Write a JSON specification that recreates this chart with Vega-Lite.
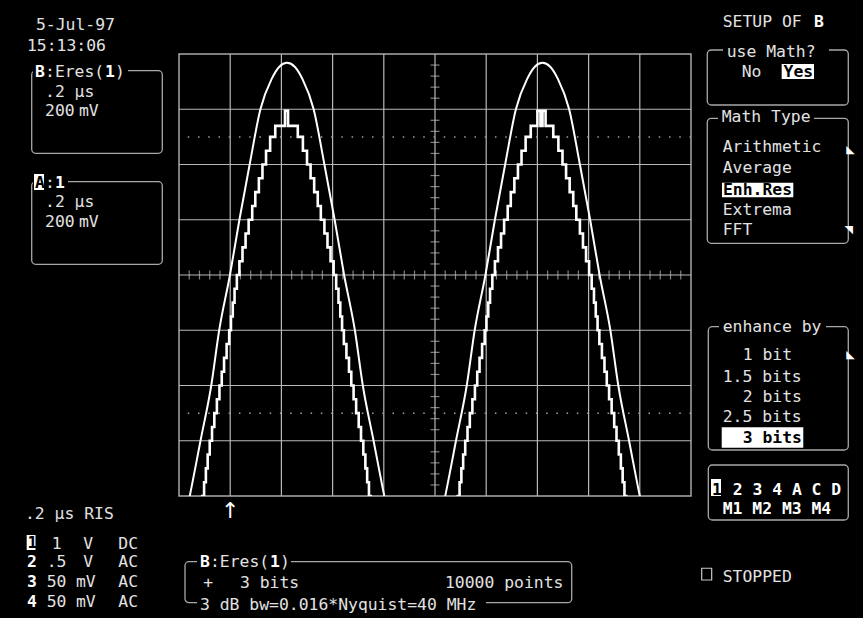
{
  "$schema": "https://vega.github.io/schema/vega-lite/v6.json",
  "width": 512,
  "height": 442,
  "autosize": {"type": "none"},
  "padding": {"left": 179, "top": 54, "right": 172, "bottom": 122},
  "background": "#000000",
  "config": {
    "view": {"stroke": "#a8a8a8", "strokeWidth": 1.5},
    "text": {"font": "DejaVu Sans Mono", "fontSize": 16.4}
  },
  "datasets": {
    "gridX": [{"x":-4},{"x":-3},{"x":-2},{"x":-1},{"x":0},{"x":1},{"x":2},{"x":3},{"x":4}],
    "gridY": [{"y":-3},{"y":-2},{"y":-1},{"y":0},{"y":1},{"y":2},{"y":3}],
    "minorX": [{"x":-4.8},{"x":-4.6},{"x":-4.4},{"x":-4.2},{"x":-3.8},{"x":-3.6},{"x":-3.4},{"x":-3.2},{"x":-2.8},{"x":-2.6},{"x":-2.4},{"x":-2.2},{"x":-1.8},{"x":-1.6},{"x":-1.4},{"x":-1.2},{"x":-0.8},{"x":-0.6},{"x":-0.4},{"x":-0.2},{"x":0.2},{"x":0.4},{"x":0.6},{"x":0.8},{"x":1.2},{"x":1.4},{"x":1.6},{"x":1.8},{"x":2.2},{"x":2.4},{"x":2.6},{"x":2.8},{"x":3.2},{"x":3.4},{"x":3.6},{"x":3.8},{"x":4.2},{"x":4.4},{"x":4.6},{"x":4.8}],
    "minorY": [{"y":-3.8},{"y":-3.6},{"y":-3.4},{"y":-3.2},{"y":-2.8},{"y":-2.6},{"y":-2.4},{"y":-2.2},{"y":-1.8},{"y":-1.6},{"y":-1.4},{"y":-1.2},{"y":-0.8},{"y":-0.6},{"y":-0.4},{"y":-0.2},{"y":0.2},{"y":0.4},{"y":0.6},{"y":0.8},{"y":1.2},{"y":1.4},{"y":1.6},{"y":1.8},{"y":2.2},{"y":2.4},{"y":2.6},{"y":2.8},{"y":3.2},{"y":3.4},{"y":3.6},{"y":3.8}],
    "dotted": [{"y": 2.5}, {"y": -2.5}],
    "outer": [{"x":-5.0,"y":-4.9},{"x":-4.79,"y":-4.0},{"x":-4.58,"y":-3.0},{"x":-4.37,"y":-2.0},{"x":-4.215,"y":-1.0},{"x":-4.005,"y":0},{"x":-3.82,"y":1.0},{"x":-3.62,"y":2.0},{"x":-3.41,"y":3.0},{"x":-3.19,"y":3.55},{"x":-3.04,"y":3.77},{"x":-2.89,"y":3.84},{"x":-2.74,"y":3.77},{"x":-2.59,"y":3.55},{"x":-2.37,"y":3.0},{"x":-2.16,"y":2.0},{"x":-1.96,"y":1.0},{"x":-1.775,"y":0},{"x":-1.565,"y":-1.0},{"x":-1.41,"y":-2.0},{"x":-1.2,"y":-3.0},{"x":-0.99,"y":-4.0},{"x":-0.79,"y":-4.85},{"x":-0.39,"y":-5.4},{"x":0.0,"y":-4.85},{"x":0.2,"y":-4.0},{"x":0.41,"y":-3.0},{"x":0.62,"y":-2.0},{"x":0.775,"y":-1.0},{"x":0.985,"y":0},{"x":1.17,"y":1.0},{"x":1.37,"y":2.0},{"x":1.58,"y":3.0},{"x":1.8,"y":3.55},{"x":1.95,"y":3.77},{"x":2.1,"y":3.84},{"x":2.25,"y":3.77},{"x":2.4,"y":3.55},{"x":2.62,"y":3.0},{"x":2.83,"y":2.0},{"x":3.03,"y":1.0},{"x":3.215,"y":0},{"x":3.425,"y":-1.0},{"x":3.58,"y":-2.0},{"x":3.79,"y":-3.0},{"x":4.0,"y":-4.0},{"x":4.2,"y":-4.85},{"x":4.6,"y":-5.4},{"x":5.0,"y":-4.85}],
    "inner": [{"x":-5.0,"y":-5.5},
      {"x":-4.63,"y":-4.5},{"x":-4.58,"y":-4.25},{"x":-4.545,"y":-4.0},{"x":-4.51,"y":-3.75},{"x":-4.475,"y":-3.5},{"x":-4.44,"y":-3.25},{"x":-4.40,"y":-3.0},{"x":-4.355,"y":-2.75},{"x":-4.31,"y":-2.5},{"x":-4.26,"y":-2.25},{"x":-4.21,"y":-2.0},{"x":-4.165,"y":-1.75},{"x":-4.12,"y":-1.5},{"x":-4.07,"y":-1.25},{"x":-4.02,"y":-1.0},{"x":-3.985,"y":-0.75},{"x":-3.95,"y":-0.5},{"x":-3.915,"y":-0.25},{"x":-3.87,"y":0},{"x":-3.82,"y":0.25},{"x":-3.76,"y":0.5},{"x":-3.70,"y":0.75},{"x":-3.64,"y":1.0},{"x":-3.57,"y":1.25},{"x":-3.51,"y":1.5},{"x":-3.44,"y":1.75},{"x":-3.37,"y":2.0},{"x":-3.30,"y":2.25},{"x":-3.22,"y":2.5},{"x":-3.12,"y":2.7},{"x":-2.93,"y":2.97},
      {"x":-2.87,"y":2.7},{"x":-2.68,"y":2.5},{"x":-2.58,"y":2.25},{"x":-2.50,"y":2.0},{"x":-2.43,"y":1.75},{"x":-2.36,"y":1.5},{"x":-2.29,"y":1.25},{"x":-2.23,"y":1.0},{"x":-2.16,"y":0.75},{"x":-2.10,"y":0.5},{"x":-2.04,"y":0.25},{"x":-1.98,"y":0},{"x":-1.93,"y":-0.25},{"x":-1.885,"y":-0.5},{"x":-1.85,"y":-0.75},{"x":-1.815,"y":-1.0},{"x":-1.78,"y":-1.25},{"x":-1.73,"y":-1.5},{"x":-1.68,"y":-1.75},{"x":-1.635,"y":-2.0},{"x":-1.59,"y":-2.25},{"x":-1.54,"y":-2.5},{"x":-1.49,"y":-2.75},{"x":-1.445,"y":-3.0},{"x":-1.40,"y":-3.25},{"x":-1.36,"y":-3.5},{"x":-1.325,"y":-3.75},{"x":-1.29,"y":-4.0},{"x":-1.255,"y":-4.25},{"x":-1.22,"y":-4.5},
      {"x":-0.4,"y":-5.5},
      {"x":0.36,"y":-4.5},{"x":0.41,"y":-4.25},{"x":0.445,"y":-4.0},{"x":0.48,"y":-3.75},{"x":0.515,"y":-3.5},{"x":0.55,"y":-3.25},{"x":0.59,"y":-3.0},{"x":0.635,"y":-2.75},{"x":0.68,"y":-2.5},{"x":0.73,"y":-2.25},{"x":0.78,"y":-2.0},{"x":0.825,"y":-1.75},{"x":0.87,"y":-1.5},{"x":0.92,"y":-1.25},{"x":0.97,"y":-1.0},{"x":1.005,"y":-0.75},{"x":1.04,"y":-0.5},{"x":1.075,"y":-0.25},{"x":1.12,"y":0},{"x":1.17,"y":0.25},{"x":1.23,"y":0.5},{"x":1.29,"y":0.75},{"x":1.35,"y":1.0},{"x":1.42,"y":1.25},{"x":1.48,"y":1.5},{"x":1.55,"y":1.75},{"x":1.62,"y":2.0},{"x":1.69,"y":2.25},{"x":1.77,"y":2.5},{"x":1.87,"y":2.7},{"x":2.0,"y":2.97},{"x":2.06,"y":2.7},{"x":2.1,"y":2.97},
      {"x":2.16,"y":2.7},{"x":2.31,"y":2.5},{"x":2.41,"y":2.25},{"x":2.49,"y":2.0},{"x":2.56,"y":1.75},{"x":2.63,"y":1.5},{"x":2.70,"y":1.25},{"x":2.76,"y":1.0},{"x":2.83,"y":0.75},{"x":2.89,"y":0.5},{"x":2.95,"y":0.25},{"x":3.01,"y":0},{"x":3.06,"y":-0.25},{"x":3.105,"y":-0.5},{"x":3.14,"y":-0.75},{"x":3.175,"y":-1.0},{"x":3.21,"y":-1.25},{"x":3.26,"y":-1.5},{"x":3.31,"y":-1.75},{"x":3.355,"y":-2.0},{"x":3.40,"y":-2.25},{"x":3.45,"y":-2.5},{"x":3.50,"y":-2.75},{"x":3.545,"y":-3.0},{"x":3.59,"y":-3.25},{"x":3.63,"y":-3.5},{"x":3.665,"y":-3.75},{"x":3.70,"y":-4.0},{"x":3.735,"y":-4.25},{"x":3.77,"y":-4.5},
      {"x":5.0,"y":-5.5}],
    "boxes": [{"x":-7.877,"x2":-5.326,"y":3.698,"y2":2.203},{"x":-7.877,"x2":-5.326,"y":1.689,"y2":0.194},{"x":5.318,"x2":8.072,"y":4.072,"y2":3.077},{"x":5.318,"x2":8.072,"y":2.836,"y2":0.574},{"x":5.338,"x2":8.072,"y":-0.936,"y2":-3.167},{"x":5.338,"x2":8.072,"y":-3.439,"y2":-4.434},{"x":-4.883,"x2":2.670,"y":-5.189,"y2":-5.931}],
    "square": [{"x":5.209,"x2":5.404,"y":-5.308,"y2":-5.520}],
    "masks": [{"x":-7.852,"x2":-5.996,"y":3.819,"y2":3.566},{"x":-7.852,"x2":-7.168,"y":1.792,"y2":1.575},{"x":5.625,"x2":7.695,"y":4.181,"y2":3.946},{"x":5.527,"x2":7.402,"y":2.950,"y2":2.715},{"x":5.547,"x2":7.637,"y":-0.814,"y2":-1.050},{"x":-4.648,"x2":-2.813,"y":-5.068,"y2":-5.303},{"x":-4.648,"x2":0.996,"y":-5.828,"y2":-6.045}],
    "highlights": [{"x":6.771,"x2":7.402,"y":3.819,"y2":3.548},{"x":5.605,"x2":6.998,"y":1.671,"y2":1.406},{"x":5.600,"x2":7.193,"y":-2.757,"y2":-3.126},{"x":5.391,"x2":5.586,"y":-3.692,"y2":-4.0},{"x":-7.975,"x2":-7.803,"y":-4.706,"y2":-4.977},{"x":-7.832,"x2":-7.637,"y":1.828,"y2":1.538}],
    "textNormal": [
      {"t":"5-Jul-97","x":-7.793,"y":4.434},
      {"t":"15:13:06","x":-7.969,"y":4.054},
      {"t":":Eres(","x":-7.617,"y":3.589},
      {"t":")","x":-6.25,"y":3.589},
      {"t":".2 µs","x":-7.617,"y":3.215},
      {"t":"200","x":-7.617,"y":2.886},
      {"t":"mV","x":-6.953,"y":2.886},
      {"t":":","x":-7.617,"y":1.569},
      {"t":".2 µs","x":-7.617,"y":1.236},
      {"t":"200","x":-7.617,"y":0.874},
      {"t":"mV","x":-6.953,"y":0.874},
      {"t":"SETUP OF","x":5.619,"y":4.494},
      {"t":"use Math?","x":5.697,"y":3.951},
      {"t":"No","x":5.990,"y":3.589},
      {"t":"Math Type","x":5.600,"y":2.775},
      {"t":"Arithmetic","x":5.619,"y":2.232},
      {"t":"Average","x":5.619,"y":1.841},
      {"t":"Extrema","x":5.619,"y":1.086},
      {"t":"FFT","x":5.619,"y":0.724},
      {"t":"enhance by","x":5.619,"y":-1.032},
      {"t":"1 bit","x":6.010,"y":-1.538},
      {"t":"1.5 bits","x":5.619,"y":-1.931},
      {"t":"2 bits","x":6.010,"y":-2.293},
      {"t":"2.5 bits","x":5.619,"y":-2.655},
      {"t":"STOPPED","x":5.619,"y":-5.551},
      {"t":".2 µs RIS","x":-8.008,"y":-4.422},
      {"t":"1","x":-7.486,"y":-4.965},
      {"t":"V","x":-6.869,"y":-4.965},
      {"t":"DC","x":-6.186,"y":-4.965},
      {"t":".5","x":-7.584,"y":-5.290},
      {"t":"V","x":-6.869,"y":-5.290},
      {"t":"AC","x":-6.186,"y":-5.290},
      {"t":"50","x":-7.584,"y":-5.642},
      {"t":"mV","x":-7.012,"y":-5.642},
      {"t":"AC","x":-6.186,"y":-5.642},
      {"t":"50","x":-7.584,"y":-6.004},
      {"t":"mV","x":-7.012,"y":-6.004},
      {"t":"AC","x":-6.186,"y":-6.004},
      {"t":":Eres(","x":-4.395,"y":-5.280},
      {"t":")","x":-3.027,"y":-5.280},
      {"t":"+","x":-4.525,"y":-5.671},
      {"t":"3 bits","x":-3.809,"y":-5.671},
      {"t":"10000 points","x":0.195,"y":-5.671},
      {"t":"3 dB bw=0.016*Nyquist=40 MHz","x":-4.590,"y":-6.063}
    ],
    "textBold": [
      {"t":"B","x":-7.813,"y":3.589},
      {"t":"1","x":-6.445,"y":3.589},
      {"t":"1","x":-7.422,"y":1.569},
      {"t":"B","x":7.40,"y":4.494},
      {"t":"2 3 4 A C D","x":5.814,"y":-3.982},
      {"t":"M1 M2 M3 M4","x":5.619,"y":-4.326},
      {"t":"2","x":-7.969,"y":-5.290},
      {"t":"3","x":-7.969,"y":-5.642},
      {"t":"4","x":-7.969,"y":-6.004},
      {"t":"B","x":-4.590,"y":-5.280},
      {"t":"1","x":-3.223,"y":-5.280}
    ],
    "textInverse": [
      {"t":"Yes","x":6.807,"y":3.584},
      {"t":"Enh.Res","x":5.625,"y":1.448},
      {"t":"3 bits","x":6.010,"y":-3.041},
      {"t":"1","x":5.410,"y":-3.973},
      {"t":"1","x":-7.959,"y":-4.950},
      {"t":"A","x":-7.813,"y":1.569}
    ],
    "arrow": [{"t":"↑","x":-4.0,"y":-4.40}],
    "scrollMarks": [{"t":"◣","x":8.03,"y":2.208},{"t":"◥","x":8.0,"y":0.760},{"t":"◣","x":8.03,"y":-1.502}]
  },
  "layer": [
    {
      "data": {"name": "gridX"},
      "mark": {"type": "rule", "color": "#b8b8b8", "strokeWidth": 1.2},
      "encoding": {
        "x": {"field": "x", "type": "quantitative", "scale": {"domain": [-5, 5], "nice": false, "zero": false}, "axis": null}
      }
    },
    {
      "data": {"name": "gridY"},
      "mark": {"type": "rule", "color": "#b8b8b8", "strokeWidth": 1.2},
      "encoding": {
        "y": {"field": "y", "type": "quantitative", "scale": {"domain": [-4, 4], "nice": false, "zero": false}, "axis": null}
      }
    },
    {
      "data": {"name": "dotted"},
      "mark": {"type": "rule", "color": "#a0a0a0", "strokeWidth": 1.5, "strokeDash": [1.5, 8.74]},
      "encoding": {"y": {"field": "y", "type": "quantitative", "axis": null}}
    },
    {
      "data": {"name": "minorX"},
      "mark": {"type": "tick", "orient": "vertical", "color": "#b8b8b8", "size": 9, "thickness": 1.2},
      "encoding": {"x": {"field": "x", "type": "quantitative", "axis": null}, "y": {"datum": 0, "type": "quantitative", "axis": null}}
    },
    {
      "data": {"name": "minorY"},
      "mark": {"type": "tick", "orient": "horizontal", "color": "#b8b8b8", "size": 9, "thickness": 1.2},
      "encoding": {"y": {"field": "y", "type": "quantitative", "axis": null}, "x": {"datum": 0, "type": "quantitative", "axis": null}}
    },
    {
      "data": {"name": "outer"},
      "mark": {"type": "line", "color": "#ffffff", "strokeWidth": 2, "interpolate": "monotone", "clip": true},
      "encoding": {"x": {"field": "x", "type": "quantitative", "axis": null}, "y": {"field": "y", "type": "quantitative", "axis": null}}
    },
    {
      "data": {"name": "inner"},
      "mark": {"type": "line", "color": "#ffffff", "strokeWidth": 2.6, "interpolate": "step-after", "clip": true},
      "encoding": {"x": {"field": "x", "type": "quantitative", "axis": null, "sort": null}, "y": {"field": "y", "type": "quantitative", "axis": null}}
    },
    {
      "data": {"name": "boxes"},
      "mark": {"type": "rect", "fill": "#000000", "fillOpacity": 0, "stroke": "#a8a8a8", "strokeWidth": 1.3, "cornerRadius": 4},
      "encoding": {"x": {"field": "x", "type": "quantitative", "axis": null}, "x2": {"field": "x2"}, "y": {"field": "y", "type": "quantitative", "axis": null}, "y2": {"field": "y2"}}
    },
    {
      "data": {"name": "square"},
      "mark": {"type": "rect", "fill": "#000000", "fillOpacity": 0, "stroke": "#c8c8c8", "strokeWidth": 1.2},
      "encoding": {"x": {"field": "x", "type": "quantitative", "axis": null}, "x2": {"field": "x2"}, "y": {"field": "y", "type": "quantitative", "axis": null}, "y2": {"field": "y2"}}
    },
    {
      "data": {"name": "masks"},
      "mark": {"type": "rect", "fill": "#000000"},
      "encoding": {"x": {"field": "x", "type": "quantitative", "axis": null}, "x2": {"field": "x2"}, "y": {"field": "y", "type": "quantitative", "axis": null}, "y2": {"field": "y2"}}
    },
    {
      "data": {"name": "highlights"},
      "mark": {"type": "rect", "fill": "#ffffff"},
      "encoding": {"x": {"field": "x", "type": "quantitative", "axis": null}, "x2": {"field": "x2"}, "y": {"field": "y", "type": "quantitative", "axis": null}, "y2": {"field": "y2"}}
    },
    {
      "data": {"name": "textNormal"},
      "mark": {"type": "text", "align": "left", "baseline": "alphabetic", "color": "#e2e2e2"},
      "encoding": {"x": {"field": "x", "type": "quantitative", "axis": null}, "y": {"field": "y", "type": "quantitative", "axis": null}, "text": {"field": "t"}}
    },
    {
      "data": {"name": "textBold"},
      "mark": {"type": "text", "align": "left", "baseline": "alphabetic", "color": "#ffffff", "fontWeight": "bold"},
      "encoding": {"x": {"field": "x", "type": "quantitative", "axis": null}, "y": {"field": "y", "type": "quantitative", "axis": null}, "text": {"field": "t"}}
    },
    {
      "data": {"name": "textInverse"},
      "mark": {"type": "text", "align": "left", "baseline": "alphabetic", "color": "#000000", "fontWeight": "bold"},
      "encoding": {"x": {"field": "x", "type": "quantitative", "axis": null}, "y": {"field": "y", "type": "quantitative", "axis": null}, "text": {"field": "t"}}
    },
    {
      "data": {"name": "arrow"},
      "mark": {"type": "text", "align": "center", "baseline": "alphabetic", "color": "#ffffff", "fontSize": 22, "font": "DejaVu Sans"},
      "encoding": {"x": {"field": "x", "type": "quantitative", "axis": null}, "y": {"field": "y", "type": "quantitative", "axis": null}, "text": {"field": "t"}}
    },
    {
      "data": {"name": "scrollMarks"},
      "mark": {"type": "text", "align": "left", "baseline": "alphabetic", "color": "#ffffff", "fontSize": 11, "font": "DejaVu Sans"},
      "encoding": {"x": {"field": "x", "type": "quantitative", "axis": null}, "y": {"field": "y", "type": "quantitative", "axis": null}, "text": {"field": "t"}}
    }
  ]
}
